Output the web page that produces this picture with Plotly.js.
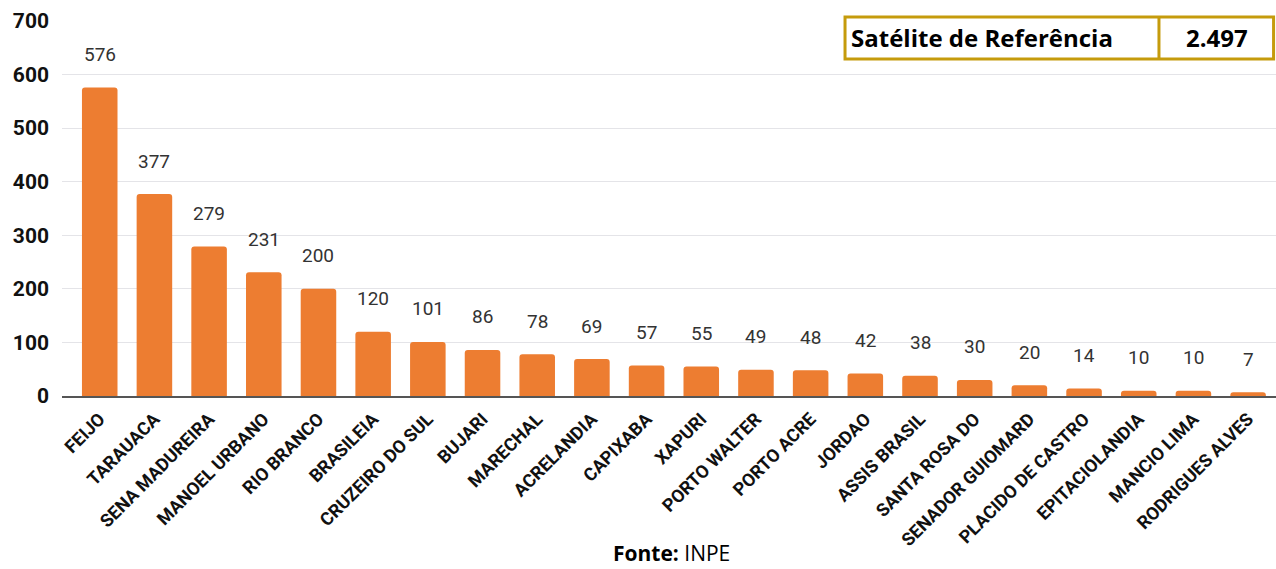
<!DOCTYPE html>
<html>
<head>
<meta charset="utf-8">
<script src="https://cdn.plot.ly/plotly-3.0.1.min.js"></script>
<style>html,body{margin:0;padding:0;background:#fff;}#chart{width:1276px;height:569px;}</style>
</head>
<body>
<div id="chart"></div>
<script>
const municipios = ["FEIJO","TARAUACA","SENA MADUREIRA","MANOEL URBANO","RIO BRANCO","BRASILEIA","CRUZEIRO DO SUL","BUJARI","MARECHAL","ACRELANDIA","CAPIXABA","XAPURI","PORTO WALTER","PORTO ACRE","JORDAO","ASSIS BRASIL","SANTA ROSA DO","SENADOR GUIOMARD","PLACIDO DE CASTRO","EPITACIOLANDIA","MANCIO LIMA","RODRIGUES ALVES"];
const focos = [576,377,279,231,200,120,101,86,78,69,57,55,49,48,42,38,30,20,14,10,10,7];
const yTicks = [0,100,200,300,400,500,600,700];
const boxLabel = "Satélite de Referência";
const boxValue = "2.497";
const fonte = "<b>Fonte:</b> INPE";

const trace = {
  type: "bar",
  x: municipios,
  y: focos,
  marker: {color: "#ED7D31", cornerradius: 3},
  width: 0.65,
  hoverinfo: "x+y"
};

const valueAnnotations = municipios.map((m, i) => ({
  x: m, y: focos[i], xref: "x", yref: "y",
  text: String(focos[i]), showarrow: false, yshift: 33,
  font: {family: "Roboto", size: 19, color: "#333333"}
}));

const gold = "#C59B0C";
const layout = {
  width: 1276, height: 569,
  margin: {l: 62, r: 0, t: 21, b: 173},
  paper_bgcolor: "#ffffff", plot_bgcolor: "#ffffff",
  showlegend: false,
  xaxis: {
    type: "category",
    range: [-0.69, 21.51],
    tickangle: -45,
    tickfont: {family: "Roboto", size: 18, color: "#111111", weight: "bold"},
    showline: true, linecolor: "#555555", linewidth: 1.5,
    ticks: "", showgrid: false, fixedrange: true, ticklabelstandoff: 4
  },
  yaxis: {
    range: [0, 700],
    tickvals: yTicks,
    ticktext: yTicks.map(String),
    tickfont: {family: "Roboto", size: 21, color: "#111111", weight: "bold"},
    showgrid: true, gridcolor: "#e4e4e8", gridwidth: 1,
    zeroline: false, ticks: "", ticklabelstandoff: 12, fixedrange: true
  },
  shapes: [
    {type: "rect", xref: "paper", yref: "paper", x0: 0.645, x1: 0.998, y0: 0.8987, y1: 1.0107,
     line: {color: gold, width: 3}, fillcolor: "rgba(255,255,255,1)", layer: "above"},
    {type: "line", xref: "paper", yref: "paper", x0: 0.9036, x1: 0.9036, y0: 0.8987, y1: 1.0107,
     line: {color: gold, width: 3}, layer: "above"}
  ],
  annotations: valueAnnotations.concat([
    {xref: "paper", yref: "paper", x: 0.648, y: 0.9547, xanchor: "left", yanchor: "middle",
     text: "<b>" + boxLabel + "</b>", showarrow: false,
     font: {family: "Open Sans", size: 24, color: "#000000"}},
    {xref: "paper", yref: "paper", x: 0.951, y: 0.9547, xanchor: "center", yanchor: "middle",
     text: "<b>" + boxValue + "</b>", showarrow: false,
     font: {family: "Open Sans", size: 24, color: "#000000"}},
    {xref: "paper", yref: "paper", x: 0.502, y: -0.418, xanchor: "center", yanchor: "middle",
     text: fonte, showarrow: false,
     font: {family: "Open Sans", size: 21, color: "#000000"}}
  ])
};

Plotly.newPlot("chart", [trace], layout, {displayModeBar: false, staticPlot: true});
</script>
</body>
</html>
